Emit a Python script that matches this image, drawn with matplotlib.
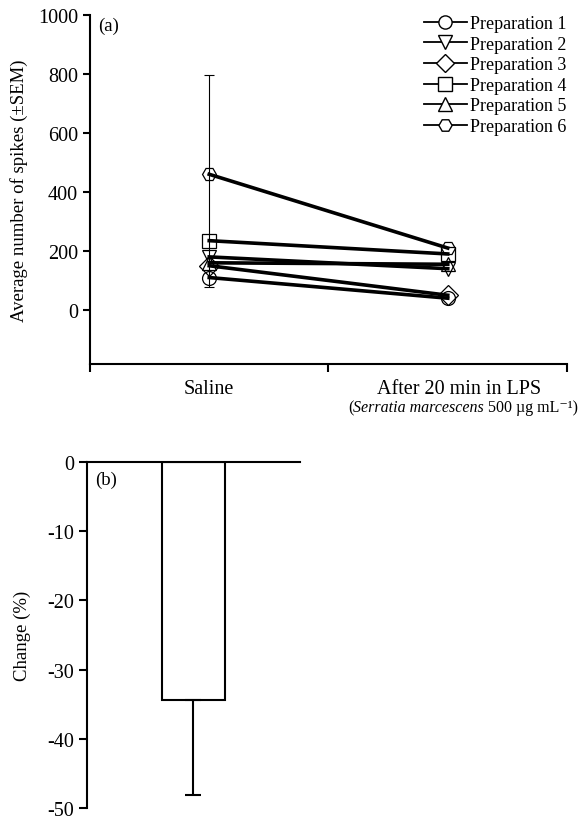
import matplotlib
matplotlib.use('Agg')
import matplotlib.pyplot as plt
from matplotlib.lines import Line2D
from matplotlib.transforms import ScaledTranslation

plt.rcParams['font.family'] = ['Liberation Serif', 'DejaVu Serif']
plt.rcParams['axes.unicode_minus'] = False

# Panel (a): spikes per preparation, saline vs LPS
conditions = ['Saline', 'After 20 min in LPS']
lps_note = ['(', 'Serratia marcescens', ' 500 µg mL⁻¹)']
preparations = ['Preparation 1', 'Preparation 2', 'Preparation 3',
                'Preparation 4', 'Preparation 5', 'Preparation 6']
markers = ['o', 'v', 'D', 's', '^', 'H']
saline_spikes = [110, 180, 150, 235, 160, 460]
lps_spikes = [40, 140, 50, 190, 155, 210]
saline_sem_low = 78
saline_sem_high = 795

# Panel (b): percent change
change_pct = [-34.4]
change_sem = [13.7]

FS = 14.5
NOTE_FS = 11.5

fig = plt.figure(figsize=(5.81, 8.2), dpi=100)

# ---- top panel ----
ax = fig.add_axes([0.1549, 0.5549, 0.821, 0.4256])
xs = [0.5, 1.5]
ax.errorbar(xs[0], saline_sem_low, yerr=[[0], [saline_sem_high - saline_sem_low]],
            fmt='none', ecolor='black', elinewidth=0.8, capsize=3.5, capthick=0.8, zorder=1)
for name, m, s, l in zip(preparations, markers, saline_spikes, lps_spikes):
    ax.plot(xs, [s, l], color='black', linewidth=2.6, marker=m, markersize=10,
            markerfacecolor='none', markeredgecolor='black', markeredgewidth=0.9,
            zorder=3)

ax.set_xlim(0, 2)
ax.set_ylim(-183, 1000)
ax.set_yticks([0, 200, 400, 600, 800, 1000])
ax.set_xticks(xs)
ax.set_xticklabels(conditions)
ax.set_xticks([0, 1, 2], minor=True)
ax.tick_params(axis='x', which='major', length=0, pad=11, labelsize=FS)
ax.tick_params(axis='x', which='minor', length=6, width=1.5, direction='out')
ax.tick_params(axis='y', length=5, width=1.5, labelsize=FS)
lbl = ax.get_xticklabels()[1]
lbl.set_transform(lbl.get_transform() + ScaledTranslation(0.11, 0, fig.dpi_scale_trans))

# second line of the LPS label, with the species name in italics
t = ax.text(0.541, -0.1347, lps_note[0], transform=ax.transAxes,
            ha='left', va='baseline', fontsize=NOTE_FS)
t = ax.annotate(lps_note[1], xy=(1, 0), xycoords=t, ha='left', va='bottom',
                fontsize=NOTE_FS, fontstyle='italic', annotation_clip=False)
ax.annotate(lps_note[2], xy=(1, 0), xycoords=t, ha='left', va='bottom',
            fontsize=NOTE_FS, annotation_clip=False)

for side in ['top', 'right']:
    ax.spines[side].set_visible(False)
for side in ['left', 'bottom']:
    ax.spines[side].set_linewidth(1.5)
ax.set_ylabel('Average number of spikes (±SEM)', fontsize=13.5)
ax.yaxis.set_label_coords(-0.13, 0.5)
ax.text(0.017, 0.995, '(a)', transform=ax.transAxes, ha='left', va='top', fontsize=13.5)

handles = [Line2D([], [], color='black', linewidth=1.3, marker=m, markersize=9.5,
                  markerfacecolor='white', markeredgecolor='black', markeredgewidth=1.0)
           for m in markers]
ax.legend(handles, preparations, loc='upper right', bbox_to_anchor=(1.0, 1.0),
          frameon=False, fontsize=13, handlelength=2.4, handletextpad=0.2,
          labelspacing=0.2, borderpad=0, borderaxespad=0)

# ---- bottom panel ----
ax2 = fig.add_axes([0.1497, 0.0134, 0.3666, 0.4220])
ax2.bar([0.5], change_pct, width=0.3, color='white', edgecolor='black', linewidth=1.5,
        yerr=[change_sem, [0]], capsize=6,
        error_kw=dict(elinewidth=1.5, capthick=1.5, ecolor='black'))
ax2.set_xlim(0, 1)
ax2.set_ylim(-50, 0)
ax2.set_yticks([0, -10, -20, -30, -40, -50])
ax2.set_xticks([])
ax2.tick_params(axis='y', length=6, width=1.5, labelsize=FS)
ax2.spines['bottom'].set_visible(False)
ax2.spines['right'].set_visible(False)
ax2.spines['top'].set_linewidth(1.5)
ax2.spines['left'].set_linewidth(1.5)
ax2.set_ylabel('Change (%)', fontsize=13.5)
ax2.yaxis.set_label_coords(-0.263, 0.5)
ax2.text(0.04, 0.975, '(b)', transform=ax2.transAxes, ha='left', va='top', fontsize=13.5)

fig.savefig('out.png', dpi=100)
